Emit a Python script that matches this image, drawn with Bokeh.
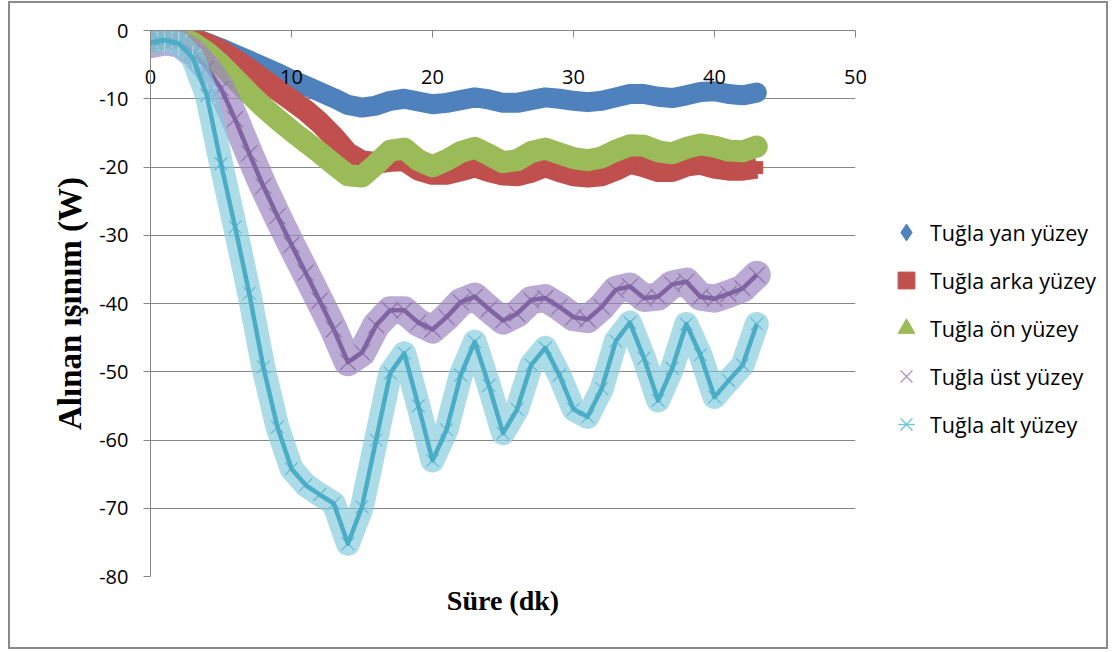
import numpy as np
from bokeh.plotting import figure
from bokeh.layouts import row
from bokeh.models import (FixedTicker, LinearAxis, Legend, LegendItem,
                          ColumnDataSource, Range1d)
from bokeh.embed import file_html
from bokeh.resources import INLINE

# ---------------- data ----------------
t_min = list(range(0, 44))

yan = [-0.8, -0.5, -0.6, -1.1, -1.8, -2.6, -3.5, -4.4, -5.3, -6.2,
       -7.2, -8.1, -9.0, -9.9, -10.9, -11.3, -11.0, -10.3, -10.0, -10.4,
       -10.8, -10.6, -10.2, -9.8, -10.1, -10.6, -10.6, -10.2, -9.8, -10.0,
       -10.3, -10.5, -10.3, -9.8, -9.3, -9.3, -9.7, -9.9, -9.5, -9.0,
       -8.9, -9.3, -9.5, -9.1]

arka = [-1.2, -0.6, -0.6, -1.2, -2.0, -3.0, -4.3, -5.7, -7.2, -8.7,
        -10.2, -11.7, -13.5, -15.6, -18.0, -19.2, -19.4, -19.1, -19.0, -20.4,
        -21.0, -21.0, -20.5, -19.9, -20.6, -21.1, -21.2, -20.7, -19.9, -20.6,
        -21.2, -21.4, -21.2, -20.4, -19.4, -19.9, -20.6, -20.6, -19.8, -19.5,
        -20.1, -20.4, -20.4, -20.1]

on = [-1.7, -1.0, -1.0, -1.8, -3.2, -5.0, -7.1, -9.2, -11.2, -13.0,
      -14.7, -16.3, -17.9, -19.6, -21.2, -21.4, -19.6, -17.6, -17.3, -19.0,
      -19.9, -19.0, -17.8, -17.2, -18.2, -19.3, -19.0, -17.8, -17.3, -18.0,
      -18.7, -19.0, -18.6, -17.6, -16.8, -16.9, -17.7, -18.0, -17.2, -16.7,
      -17.0, -17.6, -17.7, -17.0]

ust = [-2.0, -1.6, -1.9, -3.2, -5.5, -8.5, -13.0, -18.0, -22.8, -27.2,
       -31.4, -35.5, -39.6, -43.8, -48.6, -47.2, -43.2, -41.0, -41.0, -42.8,
       -43.8, -42.0, -39.8, -39.0, -40.8, -42.5, -41.5, -39.5, -39.2, -40.5,
       -42.0, -42.3, -40.5, -38.0, -37.5, -39.2, -39.0, -37.2, -36.8, -39.0,
       -39.3, -38.6, -37.8, -35.8]

alt = [-1.8, -1.4, -1.9, -4.0, -9.5, -19.5, -28.8, -38.5, -49.3, -58.1,
       -64.2, -66.6, -68.0, -69.3, -75.2, -69.8, -60.0, -50.2, -47.3, -55.0,
       -63.0, -58.5, -50.5, -45.6, -52.0, -59.0, -55.5, -49.0, -46.5, -50.5,
       -55.5, -56.6, -52.5, -45.5, -42.8, -48.0, -54.2, -49.5, -43.0, -47.5,
       -53.7, -51.3, -49.0, -43.0]

series_names = ["Tuğla yan yüzey", "Tuğla arka yüzey", "Tuğla ön yüzey",
                "Tuğla üst yüzey", "Tuğla alt yüzey"]
x_ticks = [0, 10, 20, 30, 40, 50]
y_ticks = [-80, -70, -60, -50, -40, -30, -20, -10, 0]

BLUE, RED, GREEN, PURPLE, CYAN = "#4F81BD", "#C0504D", "#9BBB59", "#8064A2", "#4BACC6"
GRAY = "#868686"

src = ColumnDataSource(dict(t=t_min, yan=yan, arka=arka, on=on, ust=ust, alt=alt))

p = figure(width=865, height=644,
           x_range=Range1d(0, 50), y_range=Range1d(-80, 0),
           x_axis_location="above",
           output_backend="svg", toolbar_location=None,
           min_border_left=140, min_border_right=20,
           min_border_top=27, min_border_bottom=71)
p.outline_line_color = None
p.background_fill_color = "white"
p.border_fill_color = "white"

# grid
p.xgrid.visible = False
p.ygrid.ticker = FixedTicker(ticks=y_ticks)
p.ygrid.grid_line_color = GRAY
p.ygrid.grid_line_width = 1

# y axis
ya = p.yaxis[0]
ya.ticker = FixedTicker(ticks=y_ticks)
ya.major_label_overrides = {v: str(v) for v in y_ticks}
ya.axis_line_color = GRAY
ya.major_tick_line_color = GRAY
ya.major_tick_out = 7
ya.major_tick_in = 0
ya.minor_tick_line_color = None
ya.major_label_text_font = "Open Sans"
ya.major_label_text_font_size = "20px"
ya.major_label_text_color = "black"
ya.major_label_standoff = 15
ya.axis_label = "Alınan ışınım (W)"
ya.axis_label_text_font = "Liberation Serif"
ya.axis_label_text_font_style = "bold"
ya.axis_label_text_font_size = "33px"
ya.axis_label_text_color = "black"
ya.axis_label_standoff = 8

# x axis (at the top, labels inside)
xa = p.xaxis[0]
xa.ticker = FixedTicker(ticks=x_ticks)
xa.major_label_overrides = {v: str(v) for v in x_ticks}
xa.axis_line_color = GRAY
xa.major_tick_line_color = GRAY
xa.major_tick_in = 7
xa.major_tick_out = 0
xa.minor_tick_line_color = None
xa.major_label_text_font = "Open Sans"
xa.major_label_text_font_size = "20px"
xa.major_label_text_color = "black"
xa.major_label_standoff = -53

# x title below
xb = LinearAxis(ticker=FixedTicker(ticks=[]), axis_line_color=None,
                major_tick_line_color=None, minor_tick_line_color=None,
                major_label_text_font_size="0px", major_label_standoff=0,
                axis_label="Süre (dk)", axis_label_text_font="Liberation Serif",
                axis_label_text_font_style="bold", axis_label_text_font_size="28px",
                axis_label_text_color="black", axis_label_standoff=8)
p.add_layout(xb, "below")

# --- series ---
p.line("t", "yan", source=src, line_color=BLUE, line_width=20,
       line_join="round", line_cap="round")
p.scatter("t", "yan", source=src, marker="diamond", size=14,
          fill_color=BLUE, line_color=BLUE)
p.line("t", "arka", source=src, line_color=RED, line_width=22,
       line_join="round", line_cap="butt")
p.scatter("t", "arka", source=src, marker="square", size=12,
          fill_color=RED, line_color=RED)
p.line("t", "on", source=src, line_color=GREEN, line_width=22,
       line_join="round", line_cap="round")
p.scatter("t", "on", source=src, marker="triangle", size=14,
          fill_color=GREEN, line_color=GREEN)
# purple (hatched band + line)
p.line("t", "ust", source=src, line_color="#9C86C2", line_width=28, line_alpha=0.7,
       line_join="round", line_cap="round")
p.scatter("t", "ust", source=src, marker="x", size=28,
          line_color="#B3A2C7", line_width=1.3, line_alpha=0.9)
p.scatter("t", "ust", source=src, marker="x", size=22,
          line_color=PURPLE, line_width=1.2, line_alpha=0.7)
p.line("t", "ust", source=src, line_color=PURPLE, line_width=4.5, line_join="round")
# cyan
p.line("t", "alt", source=src, line_color="#80C9DC", line_width=24, line_alpha=0.65,
       line_join="round", line_cap="round")
p.scatter("t", "alt", source=src, marker="x", size=24,
          line_color="#A6DCEA", line_width=1.3, line_alpha=0.9)
p.scatter("t", "alt", source=src, marker="dash", size=24, angle=np.pi / 2,
          line_color="#A6DCEA", line_width=1.3, line_alpha=0.9)
p.scatter("t", "alt", source=src, marker="x", size=18,
          line_color=CYAN, line_width=1.2, line_alpha=0.7)
p.line("t", "alt", source=src, line_color=CYAN, line_width=4.5, line_join="round")

# ---------- legend panel (separate canvas to the right) ----------
q = figure(width=231, height=644, x_range=Range1d(0, 1), y_range=Range1d(0, 1),
           x_axis_location=None, y_axis_location=None,
           output_backend="svg", toolbar_location=None, min_border=0)
q.grid.visible = False
q.outline_line_color = None
q.border_fill_color = "white"
# legend samples sit outside the visible range of this panel
hidden = ColumnDataSource(dict(x=[5.0], y=[5.0]))
g_yan = q.scatter("x", "y", source=hidden, marker="diamond", fill_color=BLUE, line_color=BLUE)
g_arka = q.scatter("x", "y", source=hidden, marker="square", fill_color=RED, line_color=RED)
g_on = q.scatter("x", "y", source=hidden, marker="triangle", fill_color=GREEN, line_color=GREEN)
g_ust = q.scatter("x", "y", source=hidden, marker="x", line_color="#A896C6", line_width=1.3)
g_alt_x = q.scatter("x", "y", source=hidden, marker="x", line_color="#6CC4DB", line_width=1.3)
g_alt_d = q.scatter("x", "y", source=hidden, marker="dash", angle=np.pi / 2,
                    line_color="#6CC4DB", line_width=1.3)

legend = Legend(items=[
    LegendItem(label=series_names[0], renderers=[g_yan]),
    LegendItem(label=series_names[1], renderers=[g_arka]),
    LegendItem(label=series_names[2], renderers=[g_on]),
    LegendItem(label=series_names[3], renderers=[g_ust]),
    LegendItem(label=series_names[4], renderers=[g_alt_x, g_alt_d]),
], location=(10, 131), orientation="vertical",
    glyph_width=42, glyph_height=42, label_height=42, spacing=6,
    padding=0, margin=0, label_standoff=3,
    border_line_color=None, background_fill_alpha=0,
    label_text_font="Open Sans", label_text_font_size="21.5px",
    label_text_color="black")
q.add_layout(legend)

lay = row(p, q, margin=(1, 0, 0, 8),
          styles={"border": "2px solid #8a8a8a"})

open("out.html", "w").write(file_html(lay, INLINE))
